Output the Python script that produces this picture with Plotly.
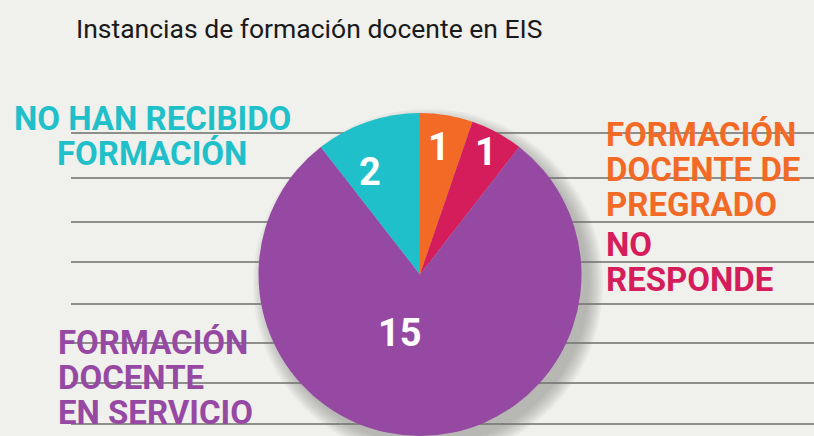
import math
import plotly.graph_objects as go

# ---- data ----
categories = ["FORMACIÓN DOCENTE DE PREGRADO", "NO RESPONDE",
              "FORMACIÓN DOCENTE EN SERVICIO", "NO HAN RECIBIDO FORMACIÓN"]
values = [1, 1, 15, 2]
colors = ["#F26A26", "#D51D5C", "#9649A3", "#1FC0C9"]
label_lines = [["FORMACIÓN", "DOCENTE DE", "PREGRADO"],
               ["NO", "RESPONDE"],
               ["FORMACIÓN", "DOCENTE", "EN SERVICIO"],
               ["NO HAN RECIBIDO", "FORMACIÓN"]]
title_text = "Instancias de formación docente en EIS"

W, H = 814, 436
BG = "#F0F0EC"

# pie geometry (pixels)
cx, cy, r = 420, 275, 162


def px(x):
    return x / W


def py(y):
    return 1 - y / H


fig = go.Figure()
fig.add_trace(go.Pie(
    labels=categories,
    values=values,
    sort=False,
    direction="clockwise",
    rotation=0,
    marker=dict(colors=colors, line=dict(width=0)),
    textinfo="none",
    showlegend=False,
    hoverinfo="label+value",
    domain=dict(x=[px(cx - r), px(cx + r)], y=[max(0, py(cy + r)), py(cy - r)]),
))

shapes = []
# notebook lines
line_ys = [133, 178, 222, 262, 304, 343, 383, 424]
for yy in line_ys:
    shapes.append(dict(type="line", xref="paper", yref="paper",
                       x0=px(71), x1=1, y0=py(yy), y1=py(yy),
                       line=dict(color="#8E8E8A", width=2), layer="below"))
# soft shadow under the pie
for k in range(8):
    rr = r + 13 - 2 * k
    shapes.append(dict(type="circle", xref="paper", yref="paper",
                       x0=px(cx + 8 - rr), x1=px(cx + 8 + rr),
                       y0=py(cy + 9 + rr), y1=py(cy + 9 - rr),
                       fillcolor="rgba(120,120,115,0.075)",
                       line=dict(width=0), layer="below"))

ann = []
ann.append(dict(text=title_text, x=px(74), y=py(29), xref="paper", yref="paper",
                xanchor="left", yanchor="middle", showarrow=False,
                font=dict(family="Roboto", size=26.5, color="#1A1A1A")))

# value labels inside slices, placed from the cumulative slice angles
label_rf = [0.80, 0.86, 0.38, 0.71]      # radial position (fraction of radius)
label_dtheta = [-1, 0, 19, -7]            # angular nudge, degrees
total = sum(values)
cum = 0
for i, v in enumerate(values):
    mid = (cum + v / 2) / total * 360 + label_dtheta[i]
    cum += v
    lx = cx + label_rf[i] * r * math.sin(math.radians(mid))
    ly = cy - label_rf[i] * r * math.cos(math.radians(mid))
    ann.append(dict(text=str(v), x=px(lx), y=py(ly), xref="paper", yref="paper",
                    xanchor="center", yanchor="middle", showarrow=False,
                    font=dict(family="Roboto", size=38, color="white", weight="bold")))

# category labels (one annotation per line for tight leading)
lab_font = dict(family="Roboto", size=33, weight="bold")
label_pos = [(604, 134, "left"), (604, 244, "left"), (56, 342, "left"), (152, 118, "center")]
line_gap = 35
for i, lines in enumerate(label_lines):
    x0, y0, al = label_pos[i]
    for j, t in enumerate(lines):
        ann.append(dict(text=t, x=px(x0), y=py(y0 + j * line_gap),
                        xref="paper", yref="paper", xanchor=al, yanchor="middle",
                        showarrow=False, font=dict(lab_font, color=colors[i])))

fig.update_layout(
    width=W, height=H,
    margin=dict(l=0, r=0, t=0, b=0),
    paper_bgcolor=BG, plot_bgcolor=BG,
    shapes=shapes, annotations=ann,
)
fig.write_html(
    "out.html",
    config={"displayModeBar": False},
    post_script="document.body.style.margin='0';document.body.style.overflow='hidden';"
                "document.documentElement.style.overflow='hidden';",
)
